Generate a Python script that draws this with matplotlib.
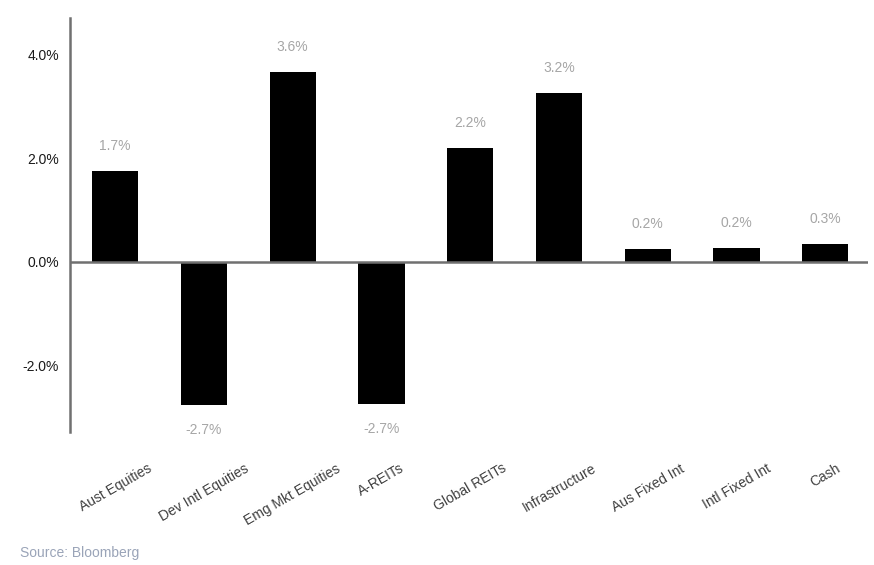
import numpy as np
import matplotlib
matplotlib.use("Agg")
import matplotlib.pyplot as plt

# data
categorias = ["Aust Equities", "Dev Intl Equities", "Emg Mkt Equities", "A-REITs",
              "Global REITs", "Infrastructure", "Aus Fixed Int", "Intl Fixed Int", "Cash"]
retornos = [1.76, -2.76, 3.67, -2.74, 2.20, 3.27, 0.25, 0.27, 0.35]
rotulos = ["1.7%", "-2.7%", "3.6%", "-2.7%", "2.2%", "3.2%", "0.2%", "0.2%", "0.3%"]
ticks_y = [-2.0, 0.0, 2.0, 4.0]

plt.rcParams['font.family'] = ['Liberation Sans', 'DejaVu Sans']

cinza_eixo = "#707070"
cinza_rotulo = "#a6a6a6"

fig, ax = plt.subplots(figsize=(8.74, 5.65), dpi=100)
fig.subplots_adjust(left=0.080, right=0.993, top=0.968, bottom=0.235)

x = np.arange(len(categorias))
ax.bar(x, retornos, width=0.52, color="black", zorder=2)

# valores acima/abaixo das barras
for xi, v, r in zip(x, retornos, rotulos):
    off = 18 if v >= 0 else -18
    ax.annotate(r, (xi, v), xytext=(0, off), textcoords="offset points",
                ha="center", va="center", fontsize=10, color=cinza_rotulo)

ax.axhline(0, color=cinza_eixo, linewidth=1.8, zorder=3)

ax.set_xlim(-0.51, 8.48)
ax.set_ylim(-3.29, 4.71)
ax.set_yticks(ticks_y)
ax.set_yticklabels(["{:.1f}%".format(t) for t in ticks_y])
ax.set_xticks(x)
ax.set_xticklabels(categorias, rotation=30, ha="center", color="#404040")

ax.tick_params(axis="y", length=0, pad=8, labelsize=10, labelcolor="#1a1a1a")
ax.tick_params(axis="x", length=0, pad=21, labelsize=10)

for lado in ["top", "right", "bottom"]:
    ax.spines[lado].set_visible(False)
ax.spines["left"].set_color(cinza_eixo)
ax.spines["left"].set_linewidth(1.8)

fig.text(0.023, 0.008, "Source: Bloomberg", fontsize=10, color="#9aa4b8",
         ha="left", va="bottom")

fig.savefig("out.png", dpi=100)
